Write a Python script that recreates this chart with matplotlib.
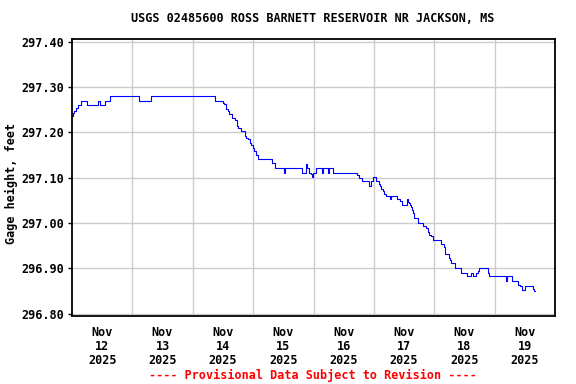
import matplotlib
matplotlib.use("Agg")
import matplotlib.pyplot as plt

# gage height breakpoints: hours since Nov 12 2025 00:00, feet
hours = [0.0, 0.3, 0.9, 1.4, 2.3, 3.7, 6.0, 10.3, 11.3, 13.2, 15.3, 26.5, 31.6,
         56.9, 60.1, 60.6, 61.3, 61.9, 62.6, 63.8, 64.6, 65.4, 65.6, 66.1, 67.2,
         68.8, 69.0, 69.8, 70.7, 71.2, 72.0, 72.5, 73.3, 74.1, 79.6, 80.5,
         84.2, 84.6, 91.3, 93.1, 93.5, 94.1, 94.4, 95.1, 95.5, 95.7, 96.8,
         99.4, 99.7, 101.8, 102.1, 103.9, 113.2, 114.0, 115.2, 118.2, 119.0,
         119.5, 119.8, 120.9, 121.9, 122.5, 122.9, 123.5, 124.2, 124.9, 126.6,
         126.9, 129.2, 130.2, 131.1, 133.3, 133.7, 134.1, 134.4, 134.8, 135.2,
         135.4, 136.1, 137.4, 139.7, 140.8, 141.4, 142.1, 142.7, 143.7, 146.7,
         148.0, 148.1, 149.7, 150.3, 150.7, 152.1, 154.6, 157.2, 158.5, 159.6,
         160.7, 161.3, 161.7, 165.2, 165.9, 172.5, 172.9, 174.8, 177.4, 178.2,
         178.9, 180.1, 183.1, 183.5, 184.2]
gage = [297.235, 297.243, 297.248, 297.253, 297.260, 297.270, 297.260, 297.270,
        297.260, 297.270, 297.280, 297.270, 297.280,
        297.270, 297.265, 297.262, 297.251, 297.246, 297.240, 297.232, 297.227,
        297.221, 297.215, 297.210, 297.203,
        297.192, 297.188, 297.186, 297.177, 297.172, 297.166, 297.158, 297.151,
        297.142, 297.133, 297.122,
        297.111, 297.122, 297.111, 297.131, 297.122, 297.115, 297.111, 297.108,
        297.102, 297.111, 297.122,
        297.111, 297.122, 297.111, 297.122, 297.111, 297.105, 297.100, 297.092,
        297.081, 297.092,
        297.092, 297.101, 297.092, 297.086, 297.081, 297.074, 297.070, 297.064,
        297.059, 297.053,
        297.059, 297.053, 297.048, 297.040, 297.052, 297.046, 297.044, 297.040,
        297.035, 297.029,
        297.022, 297.011, 297.000, 296.993, 296.989, 296.981, 296.974, 296.970,
        296.963, 296.953,
        296.946, 296.931, 296.923, 296.919, 296.911, 296.900, 296.889, 296.882,
        296.889, 296.882,
        296.889, 296.893, 296.900, 296.889, 296.882, 296.871, 296.882, 296.871,
        296.863, 296.860,
        296.852, 296.861, 296.854, 296.850, 296.850]

day_labels = ["Nov\n12\n2025", "Nov\n13\n2025", "Nov\n14\n2025", "Nov\n15\n2025",
              "Nov\n16\n2025", "Nov\n17\n2025", "Nov\n18\n2025", "Nov\n19\n2025"]
y_ticks = [296.80, 296.90, 297.00, 297.10, 297.20, 297.30, 297.40]

font = "DejaVu Sans Mono"
fs = 8.5

fig = plt.figure(figsize=(5.76, 3.84), dpi=100)
ax = fig.add_axes([72 / 576, 1 - 316 / 384, 483 / 576, (316 - 39.3) / 384])

ax.plot(hours, gage, color="#0000ff", linewidth=0.8, drawstyle="steps-post")

ax.set_xlim(0, 192)
ax.set_ylim(296.7945, 297.4053)

# day boundaries as grid lines, labels centred on noon
ax.set_xticks([24 * i for i in range(1, 8)])
ax.set_xticklabels([])
ax.set_xticks([24 * i + 12 for i in range(8)], minor=True)
ax.set_xticklabels(day_labels, minor=True, fontfamily=font, fontweight="bold",
                   fontsize=fs, linespacing=1.1)
ax.tick_params(axis="x", which="both", length=0, pad=7)

ax.set_yticks(y_ticks)
ax.set_yticklabels(["%.2f" % v for v in y_ticks], fontfamily=font,
                   fontweight="bold", fontsize=fs)
ax.tick_params(axis="y", length=3, width=1, pad=3)

ax.grid(True, which="major", color="#cccccc", linewidth=1.0)
ax.set_axisbelow(True)
for s in ax.spines.values():
    s.set_linewidth(1.3)

fig.text(313 / 576, 1 - 19 / 384, "USGS 02485600 ROSS BARNETT RESERVOIR NR JACKSON, MS",
         ha="center", va="center", fontfamily=font, fontweight="bold", fontsize=fs)
fig.text(11 / 576, 1 - 183 / 384, "Gage height, feet", rotation=90,
         ha="center", va="center", fontfamily=font, fontweight="bold", fontsize=fs)
fig.text(313 / 576, 1 - 375 / 384, "---- Provisional Data Subject to Revision ----",
         ha="center", va="center", color="red", fontfamily=font,
         fontweight="bold", fontsize=fs)

fig.savefig("out.png", dpi=100)
